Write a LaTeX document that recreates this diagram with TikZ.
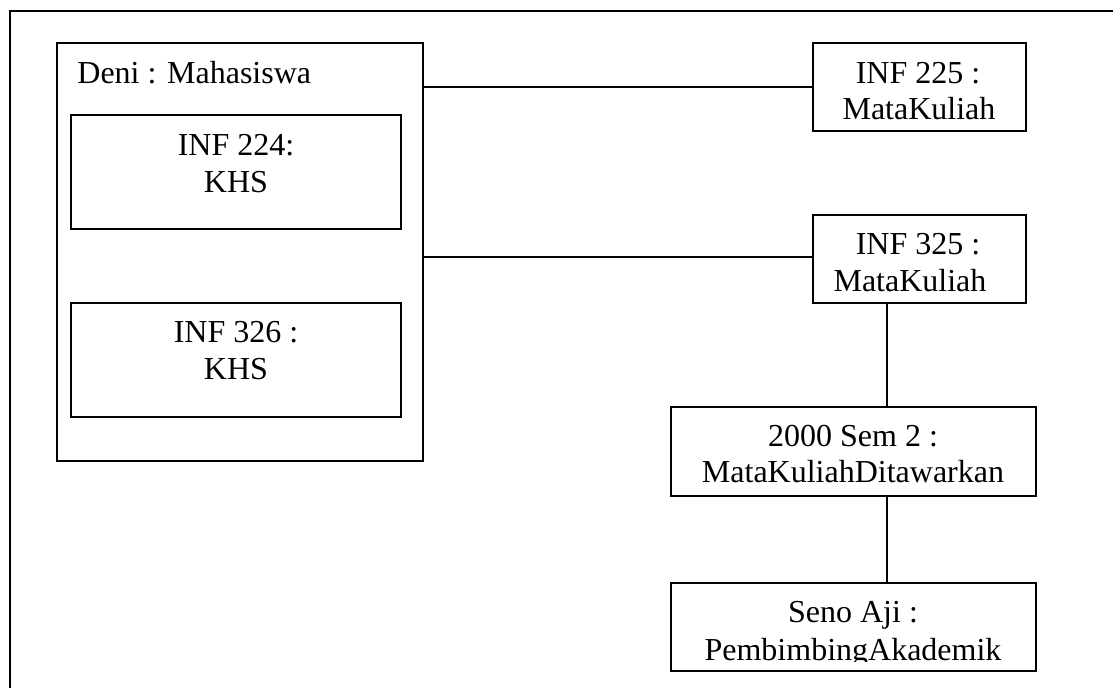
\documentclass[tikz,border=0pt]{standalone}
\usepackage{fontspec}
\setmainfont{Liberation Serif}
\begin{document}
\begin{tikzpicture}[x=0.5pt,y=-0.5pt,
  objbox/.style={draw, line width=1pt, inner sep=0pt, fill=white},
  lbl/.style={inner sep=0pt, anchor=base, font=\fontsize{16}{18.5}\selectfont},
  link/.style={line width=1pt}]
  % page area
  \useasboundingbox (0,0) rectangle (1113,688);
  \clip (0,0) rectangle (1113,688);
  % outer frame (runs past the right and bottom edges)
  \draw[line width=1pt] (10,11) rectangle (1140,720);

  % Mahasiswa object with its nested KHS objects
  \node[objbox, minimum width=183pt, minimum height=209pt] (deni) at (240,252) {};
  \node[lbl, anchor=base west] (denit) at (77,84) {Deni : Mahasiswa};
  \node[objbox, minimum width=165pt, minimum height=57pt] (inf224) at (236,172) {};
  \node[lbl] (inf224a) at (236,156) {INF 224:};
  \node[lbl] (inf224b) at (236,193) {KHS};
  \node[objbox, minimum width=165pt, minimum height=57pt] (inf326) at (236,360) {};
  \node[lbl] (inf326a) at (236,343) {INF 326 :};
  \node[lbl] (inf326b) at (236,380) {KHS};

  % MataKuliah objects
  \node[objbox, minimum width=106.5pt, minimum height=44pt] (inf225) at (919.5,87) {};
  \node[lbl] (inf225a) at (918,84) {INF 225 :};
  \node[lbl] (inf225b) at (919,120) {MataKuliah};
  \node[objbox, minimum width=106.5pt, minimum height=44pt] (inf325) at (919.5,259) {};
  \node[lbl] (inf325a) at (918,255) {INF 325 :};
  \node[lbl] (inf325b) at (910,292) {MataKuliah};

  % offered course and academic advisor
  \node[objbox, minimum width=182.5pt, minimum height=44.5pt] (sem2) at (853.5,451.5) {};
  \node[lbl] (sem2a) at (853,447) {2000 Sem 2 :};
  \node[lbl] (sem2b) at (853,483) {MataKuliahDitawarkan};
  \node[objbox, minimum width=182.5pt, minimum height=44pt] (seno) at (853.5,627) {};
  \node[lbl] (senoa) at (853,623) {Seno Aji :};
  \begin{scope}
    \clip (672,600) rectangle (1034,662);
    \node[lbl] (senob) at (853,661) {PembimbingAkademik};
  \end{scope}

  % links
  \draw[link] (deni.east |- inf225.west) -- (inf225.west);
  \draw[link] (deni.east |- 0,257) -- (inf325.west |- 0,257);
  \draw[link] (inf325.south -| 887,0) -- (sem2.north -| 887,0);
  \draw[link] (sem2.south -| 887,0) -- (seno.north -| 887,0);
\end{tikzpicture}
\end{document}
